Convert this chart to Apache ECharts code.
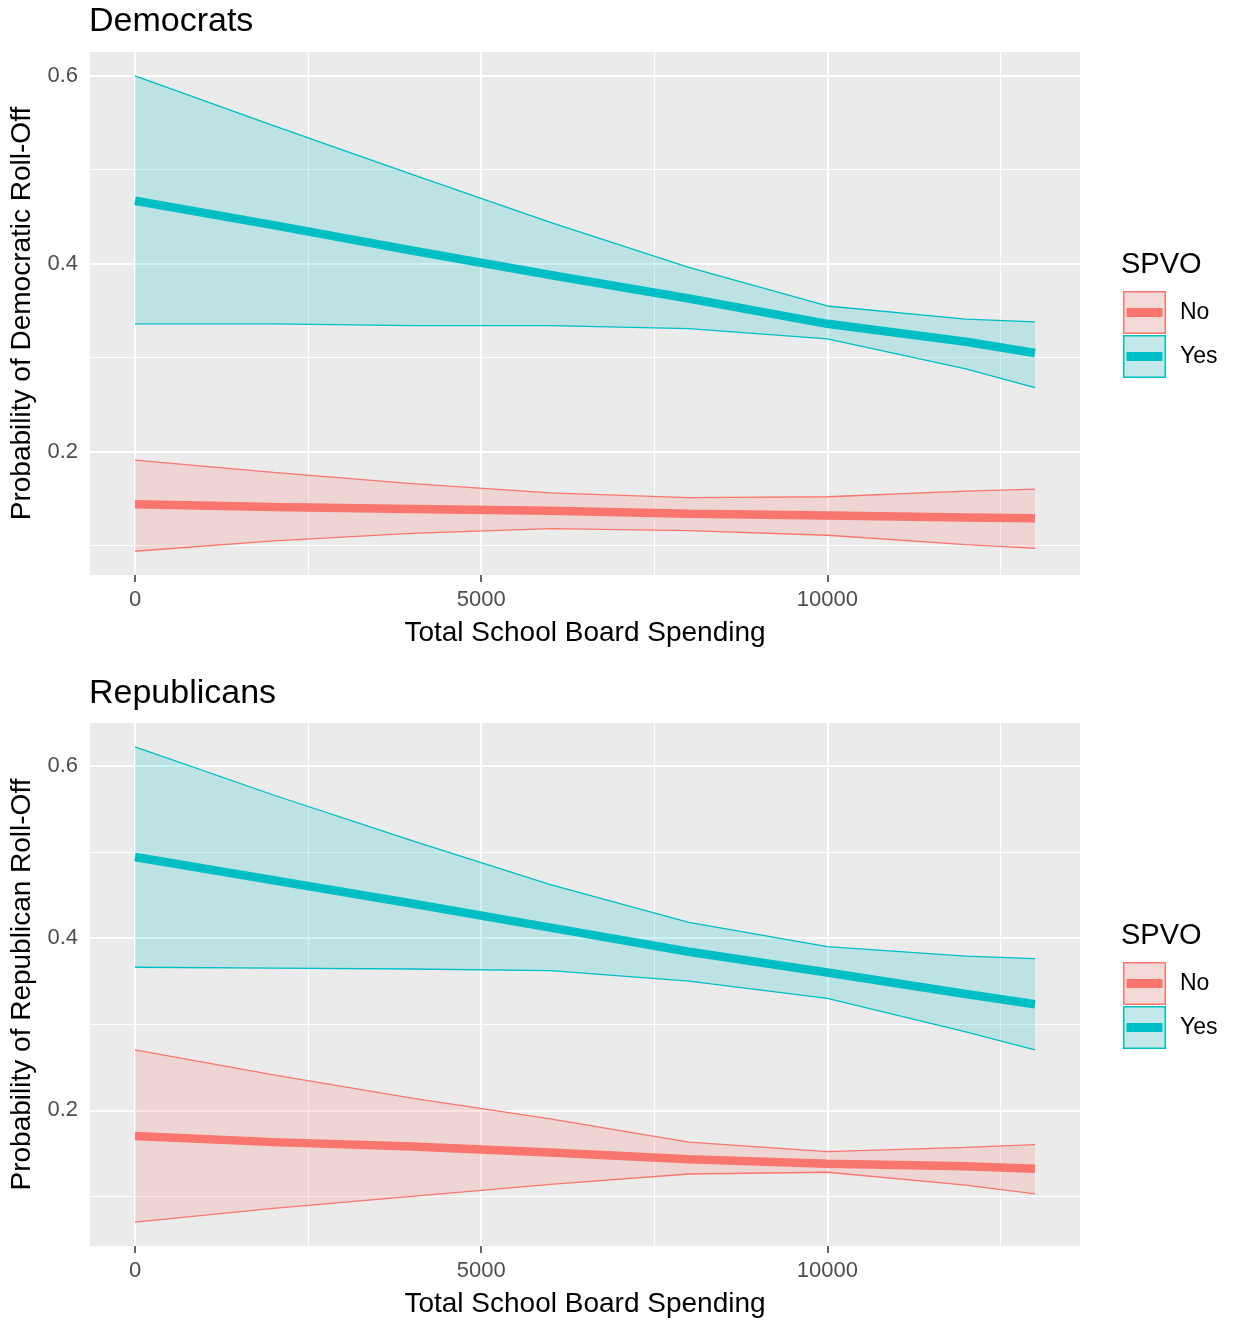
<!DOCTYPE html>
<html>
<head>
<meta charset="utf-8">
<title>Roll-Off by School Board Spending</title>
<script src="https://cdn.jsdelivr.net/npm/echarts@6/dist/echarts.min.js"></script>
<style>
  html, body { margin: 0; padding: 0; background: #ffffff; }
  #chart { width: 1233px; height: 1325px; }
</style>
</head>
<body>
<div id="chart"></div>
<script>
// Predicted probabilities with confidence bounds, by total school board spending
const spending = [0, 2000, 4000, 6000, 8000, 10000, 12000, 13000];

// Democrats
const demNoFit  = [0.144, 0.141, 0.139, 0.137, 0.134, 0.132, 0.130, 0.129];
const demNoLow  = [0.094, 0.105, 0.113, 0.118, 0.116, 0.111, 0.101, 0.097];
const demNoHigh = [0.191, 0.178, 0.166, 0.156, 0.151, 0.152, 0.158, 0.160];
const demYesFit  = [0.467, 0.441, 0.414, 0.388, 0.363, 0.336, 0.317, 0.305];
const demYesLow  = [0.336, 0.336, 0.334, 0.334, 0.331, 0.320, 0.288, 0.268];
const demYesHigh = [0.600, 0.547, 0.495, 0.444, 0.396, 0.355, 0.341, 0.338];

// Republicans
const repNoFit  = [0.170, 0.163, 0.158, 0.151, 0.143, 0.138, 0.135, 0.132];
const repNoLow  = [0.070, 0.086, 0.100, 0.114, 0.126, 0.128, 0.113, 0.103];
const repNoHigh = [0.270, 0.241, 0.214, 0.190, 0.163, 0.152, 0.157, 0.160];
const repYesFit  = [0.494, 0.467, 0.440, 0.412, 0.384, 0.360, 0.335, 0.323];
const repYesLow  = [0.366, 0.365, 0.364, 0.362, 0.350, 0.330, 0.291, 0.270];
const repYesHigh = [0.622, 0.566, 0.513, 0.462, 0.418, 0.390, 0.379, 0.376];

// Axis breaks
const xTicks = [0, 5000, 10000];
const xMinor = [2500, 7500, 12500];
const yTicks = [0.2, 0.4, 0.6];
const yMinor = [0.1, 0.3, 0.5];

const groups = ['No', 'Yes'];
const lineColor = { No: '#F8766D', Yes: '#00BFC4' };
const bandColor = { No: 'rgba(248,118,109,0.2)', Yes: 'rgba(0,191,196,0.2)' };
const keyFill = { No: '#F3D9D7', Yes: '#C2E8E9' };

const FONT = '"Liberation Sans", Arial, Helvetica, sans-serif';

// 5% expansion on each side, like a default continuous scale
function expand(arrs) {
  const all = [].concat(...arrs);
  const lo = Math.min(...all), hi = Math.max(...all);
  const pad = (hi - lo) * 0.05;
  return [lo - pad, hi + pad];
}

const xRange = expand([spending]);
const demRange = expand([demNoLow, demNoHigh, demYesLow, demYesHigh]);
const repRange = expand([repNoLow, repNoHigh, repYesLow, repYesHigh]);

const pairs = (ys) => spending.map((x, i) => [x, ys[i]]);

const gridLineData = [
  ...xTicks.map(v => ({ xAxis: v, lineStyle: { width: 2 } })),
  ...xMinor.map(v => ({ xAxis: v, lineStyle: { width: 1.1 } })),
  ...yTicks.map(v => ({ yAxis: v, lineStyle: { width: 2 } })),
  ...yMinor.map(v => ({ yAxis: v, lineStyle: { width: 1.1 } }))
];

// Confidence ribbon: one polygon running along the upper bound and back along the lower bound
function ribbon(idx, g, low, high, withGrid) {
  const s = {
    name: g, type: 'custom', xAxisIndex: idx, yAxisIndex: idx, z: 2, silent: true,
    data: spending.map((x, i) => [x, low[i], high[i]]),
    encode: { x: 0, y: [1, 2] },
    renderItem: function (params, api) {
      if (params.dataIndex !== 0) return null;
      const upper = spending.map((x, i) => api.coord([x, high[i]]));
      const lower = spending.map((x, i) => api.coord([x, low[i]])).reverse();
      return {
        type: 'polygon',
        shape: { points: upper.concat(lower) },
        style: { fill: bandColor[g], stroke: null }
      };
    },
    itemStyle: { color: lineColor[g] }
  };
  if (withGrid) {
    s.markLine = {
      z: 1, silent: true, symbol: 'none', animation: false,
      label: { show: false },
      lineStyle: { color: '#ffffff', type: 'solid' },
      emphasis: { disabled: true },
      data: gridLineData
    };
  }
  return s;
}

function line(idx, g, ys, width, z) {
  return {
    name: g, type: 'line', xAxisIndex: idx, yAxisIndex: idx,
    data: pairs(ys), symbol: 'none', z: z, silent: true,
    lineStyle: { color: lineColor[g], width: width, cap: 'butt' },
    itemStyle: { color: lineColor[g] }
  };
}

function panelSeries(idx, data) {
  const out = [];
  groups.forEach((g, gi) => {
    const d = data[g];
    out.push(ribbon(idx, g, d.low, d.high, gi === 0));
    out.push(line(idx, g, d.low, 1.3, 3));
    out.push(line(idx, g, d.high, 1.3, 3));
  });
  groups.forEach(g => out.push(line(idx, g, data[g].fit, 8.5, 4)));
  return out;
}

function xAxisFor(idx) {
  return {
    type: 'value', gridIndex: idx, min: xRange[0], max: xRange[1],
    name: 'Total School Board Spending', nameLocation: 'middle', nameGap: 44,
    nameTextStyle: { fontSize: 28, color: '#000000', fontFamily: FONT },
    axisLine: { show: false },
    axisTick: { show: true, length: 7, customValues: xTicks, lineStyle: { color: '#333333', width: 1.5 } },
    axisLabel: {
      show: true, fontSize: 22, color: '#4D4D4D', margin: 14, customValues: xTicks, fontFamily: FONT,
      formatter: v => String(v)
    },
    splitLine: { show: false }
  };
}

function yAxisFor(idx, name, range) {
  return {
    type: 'value', gridIndex: idx, min: range[0], max: range[1],
    name: name, nameLocation: 'middle', nameGap: 51,
    nameTextStyle: { fontSize: 28, color: '#000000', fontFamily: FONT },
    axisLine: { show: false },
    axisTick: { show: true, length: 7, customValues: yTicks, lineStyle: { color: '#333333', width: 1.5 } },
    axisLabel: {
      show: true, fontSize: 22, color: '#4D4D4D', margin: 12, customValues: yTicks, fontFamily: FONT,
      formatter: v => String(v)
    },
    splitLine: { show: false }
  };
}

// Legend: a filled key box layered under an outline + thick line glyph
const keyGlyph = 'path://M0,0H43V43H0Z M1.5,1.5V41.5H41.5V1.5Z M3.5,17H39.5V26H3.5Z';
function legendPair(top) {
  return [
    {
      orient: 'vertical', left: 1123, top: top, itemWidth: 43, itemHeight: 43, itemGap: 1,
      icon: 'rect', selectedMode: false, padding: 0,
      itemStyle: { borderWidth: 0 },
      textStyle: { fontSize: 23, color: 'rgba(0,0,0,0)', fontFamily: FONT },
      data: groups.map(g => ({ name: g, itemStyle: { color: keyFill[g], borderWidth: 0 } }))
    },
    {
      orient: 'vertical', left: 1123, top: top, itemWidth: 43, itemHeight: 43, itemGap: 1,
      icon: keyGlyph, selectedMode: false, padding: 0,
      itemStyle: { borderWidth: 0 },
      textStyle: { fontSize: 23, color: '#000000', fontFamily: FONT, padding: [0, 0, 0, 9] },
      data: groups.map(g => ({ name: g, itemStyle: { color: lineColor[g], borderWidth: 0 } }))
    }
  ];
}

const titleStyle = { fontSize: 34, fontWeight: 'normal', color: '#000000', fontFamily: FONT };
const legendTitleStyle = { fontSize: 29, fontWeight: 'normal', color: '#000000', fontFamily: FONT };

const option = {
  animation: false,
  backgroundColor: '#ffffff',
  textStyle: { fontFamily: FONT },
  title: [
    { text: 'Democrats', left: 89, top: 5, padding: 0, textStyle: titleStyle },
    { text: 'Republicans', left: 89, top: 677, padding: 0, textStyle: titleStyle },
    { text: 'SPVO', left: 1121, top: 250, padding: 0, textStyle: legendTitleStyle },
    { text: 'SPVO', left: 1121, top: 921, padding: 0, textStyle: legendTitleStyle }
  ],
  grid: [
    { left: 90, top: 52, width: 990, height: 523, show: true, backgroundColor: '#EBEBEB', borderWidth: 0 },
    { left: 90, top: 723, width: 990, height: 523, show: true, backgroundColor: '#EBEBEB', borderWidth: 0 }
  ],
  xAxis: [xAxisFor(0), xAxisFor(1)],
  yAxis: [
    yAxisFor(0, 'Probability of Democratic Roll-Off', demRange),
    yAxisFor(1, 'Probability of Republican Roll-Off', repRange)
  ],
  legend: [...legendPair(291), ...legendPair(962)],
  series: [
    ...panelSeries(0, {
      No: { fit: demNoFit, low: demNoLow, high: demNoHigh },
      Yes: { fit: demYesFit, low: demYesLow, high: demYesHigh }
    }),
    ...panelSeries(1, {
      No: { fit: repNoFit, low: repNoLow, high: repNoHigh },
      Yes: { fit: repYesFit, low: repYesLow, high: repYesHigh }
    })
  ]
};

const chart = echarts.init(document.getElementById('chart'), null, { renderer: 'canvas' });
chart.setOption(option);
</script>
</body>
</html>
